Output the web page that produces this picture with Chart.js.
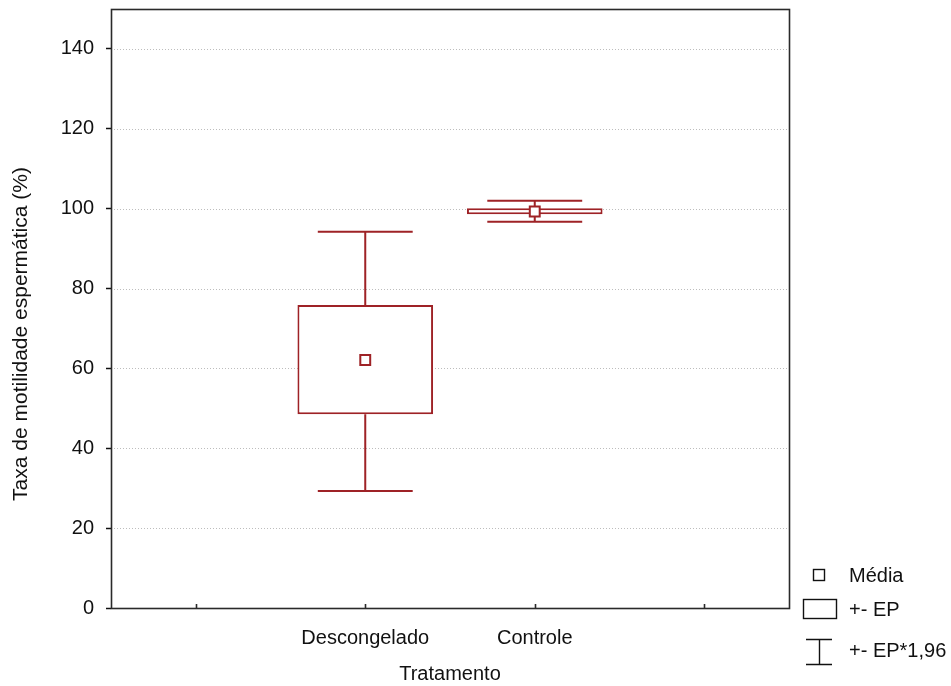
<!DOCTYPE html>
<html>
<head>
<meta charset="utf-8">
<script src="https://cdn.jsdelivr.net/npm/chart.js@4"></script>
<style>
  html, body { margin: 0; padding: 0; background: #fff; }
  #wrap { width: 951px; height: 686px; }
</style>
</head>
<body>
<div id="wrap"><canvas id="chart1"></canvas></div>
<script>
// categories (blank slots at the ends, like the original axis)
const categories = ['', 'Descongelado', 'Controle', ''];
// mean, +- EP box, +- EP*1,96 whiskers
const means = [null, 62.1, 99.3, null];
const epLow = [null, 48.5, 98.6, null];
const epHigh = [null, 75.9, 100.1, null];
const ciLow = [null, 29.3, 96.7, null];
const ciHigh = [null, 94.2, 102.0, null];
const yTicks = [0, 20, 40, 60, 80, 100, 120, 140];
const yTitle = 'Taxa de motilidade espermática (%)';

const red = '#9e2226';
const fontFam = "'Liberation Sans', Arial, sans-serif";

// whiskers + grid + frame + legend
const boxPlugin = {
  id: 'boxPlugin',
  beforeDatasetsDraw(chart) {
    const ctx = chart.ctx;
    const x = chart.scales.x, y = chart.scales.y;
    const a = chart.chartArea;
    // dotted grid
    ctx.save();
    ctx.strokeStyle = '#bdbdbd';
    ctx.lineWidth = 1;
    ctx.setLineDash([1, 2]);
    yTicks.forEach(v => {
      if (v === 0) return;
      const py = Math.round(y.getPixelForValue(v)) + 0.5;
      ctx.beginPath();
      ctx.moveTo(a.left, py);
      ctx.lineTo(a.right, py);
      ctx.stroke();
    });
    ctx.restore();

    // whiskers
    const catW = (a.right - a.left) / categories.length;
    ctx.save();
    ctx.strokeStyle = red;
    ctx.lineWidth = 2;
    for (let i = 0; i < categories.length; i++) {
      if (means[i] == null) continue;
      const cx = x.getPixelForValue(i);
      const half = catW * 0.28;
      const pairs = [[epHigh[i], ciHigh[i]], [epLow[i], ciLow[i]]];
      pairs.forEach(p => {
        const y1 = y.getPixelForValue(p[0]);
        const y2 = y.getPixelForValue(p[1]);
        ctx.beginPath();
        ctx.moveTo(cx, y1);
        ctx.lineTo(cx, y2);
        ctx.moveTo(cx - half, y2);
        ctx.lineTo(cx + half, y2);
        ctx.stroke();
      });
    }
    ctx.restore();
  },
  afterDraw(chart) {
    const ctx = chart.ctx;
    const a = chart.chartArea;
    const x = chart.scales.x;
    ctx.save();
    ctx.strokeStyle = '#2a2a2a';
    ctx.lineWidth = 1.6;
    ctx.strokeRect(Math.round(a.left) + 0.5, Math.round(a.top) + 0.5,
      Math.round(a.right - a.left), Math.round(a.bottom - a.top));
    // x ticks pointing inward
    for (let i = 0; i < categories.length; i++) {
      const px = Math.round(x.getPixelForValue(i)) + 0.5;
      ctx.beginPath();
      ctx.moveTo(px, a.bottom);
      ctx.lineTo(px, a.bottom - 4);
      ctx.stroke();
    }
    ctx.restore();

    // y axis title (sits a little below the plot centre in the original)
    ctx.save();
    ctx.fillStyle = '#111';
    ctx.font = '21px ' + fontFam;
    ctx.textAlign = 'center';
    ctx.textBaseline = 'middle';
    ctx.translate(21, 334);
    ctx.rotate(-Math.PI / 2);
    ctx.fillText(yTitle, 0, 0);
    ctx.restore();

    // legend
    const lx = a.right + 14;
    ctx.save();
    ctx.strokeStyle = '#111';
    ctx.fillStyle = '#111';
    ctx.lineWidth = 1.4;
    ctx.font = '20px ' + fontFam;
    ctx.textBaseline = 'middle';
    ctx.strokeRect(lx + 10.5, 569.5, 11, 11);
    ctx.fillText('Média', lx + 46, 576);
    ctx.strokeRect(lx + 0.5, 599.5, 33, 19);
    ctx.fillText('+- EP', lx + 46, 610);
    ctx.beginPath();
    ctx.moveTo(lx + 3, 639.5); ctx.lineTo(lx + 29, 639.5);
    ctx.moveTo(lx + 16.5, 639.5); ctx.lineTo(lx + 16.5, 664.5);
    ctx.moveTo(lx + 3, 664.5); ctx.lineTo(lx + 29, 664.5);
    ctx.stroke();
    ctx.fillText('+- EP*1,96', lx + 46, 651);
    ctx.restore();
  }
};

const config = {
  type: 'bar',
  data: {
    labels: categories,
    datasets: [
      {
        type: 'line',
        label: 'Média',
        data: means,
        showLine: false,
        pointStyle: 'rect',
        pointRadius: 7,
        pointBackgroundColor: '#fff',
        pointBorderColor: red,
        pointBorderWidth: 2,
        order: 0
      },
      {
        label: '+- EP',
        data: epLow.map((v, i) => v == null ? null : [v, epHigh[i]]),
        backgroundColor: '#fff',
        borderColor: red,
        borderWidth: 2,
        borderSkipped: false,
        barPercentage: 0.8,
        categoryPercentage: 1,
        order: 1
      }
    ]
  },
  options: {
    responsive: true,
    maintainAspectRatio: false,
    animation: false,
    layout: { padding: { top: 9, right: 162, left: 6, bottom: 0 } },
    plugins: { legend: { display: false }, tooltip: { enabled: false } },
    scales: {
      x: {
        offset: true,
        afterFit: scale => { scale.height = 78; scale.paddingLeft = 0; scale.paddingRight = 0; },
        grid: { display: false, offset: false },
        border: { display: false },
        ticks: { color: '#111', font: { family: fontFam, size: 20 }, padding: 10 },
        title: { display: true, text: 'Tratamento', color: '#111', font: { family: fontFam, size: 20 }, padding: { top: 0, bottom: 0 } }
      },
      y: {
        min: 0,
        max: 150,
        afterFit: scale => { scale.width = 105; scale.paddingTop = 0; scale.paddingBottom = 0; },
        afterBuildTicks: scale => { scale.ticks = yTicks.map(v => ({ value: v })); },
        grid: { drawOnChartArea: false, drawTicks: true, tickLength: 5, tickColor: '#111', tickWidth: 1.5 },
        border: { display: false },
        ticks: { color: '#111', font: { family: fontFam, size: 20 }, padding: 12 },
        title: { display: false }
      }
    }
  },
  plugins: [boxPlugin]
};

new Chart(document.getElementById('chart1'), config);
</script>
</body>
</html>
